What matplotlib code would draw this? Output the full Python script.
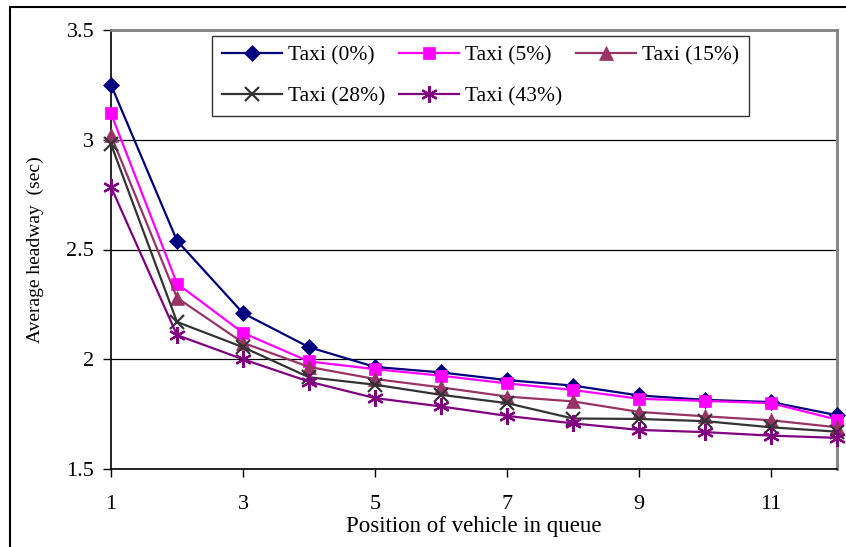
import matplotlib
matplotlib.use("Agg")
import matplotlib.pyplot as plt
from matplotlib.patches import Rectangle

positions = [1, 2, 3, 4, 5, 6, 7, 8, 9, 10, 11, 12]
taxi_0 = [3.25, 2.54, 2.21, 2.055, 1.965, 1.94, 1.905, 1.88, 1.835, 1.815, 1.805, 1.745]
taxi_5 = [3.12, 2.345, 2.12, 1.99, 1.955, 1.925, 1.89, 1.86, 1.82, 1.81, 1.80, 1.725]
taxi_15 = [3.02, 2.28, 2.075, 1.965, 1.91, 1.872, 1.83, 1.808, 1.76, 1.74, 1.722, 1.69]
taxi_28 = [2.98, 2.17, 2.055, 1.918, 1.884, 1.838, 1.80, 1.73, 1.728, 1.718, 1.69, 1.67]
taxi_43 = [2.785, 2.11, 2.0, 1.898, 1.823, 1.785, 1.742, 1.708, 1.678, 1.668, 1.652, 1.642]
labels = ["Taxi (0%)", "Taxi (5%)", "Taxi (15%)", "Taxi (28%)", "Taxi (43%)"]
xticks = [1, 3, 5, 7, 9, 11]
yticks = [1.5, 2, 2.5, 3, 3.5]
ytick_labels = ["1.5", "2", "2.5", "3", "3.5"]

plt.rcParams['font.family'] = ['Liberation Serif', 'DejaVu Serif']

fig = plt.figure(figsize=(8.46, 5.47), dpi=100)
W, H = 846, 547
ax = fig.add_axes([111 / W, 1 - 469 / H, (837 - 111) / W, (469 - 30) / H])

series = [taxi_0, taxi_5, taxi_15, taxi_28, taxi_43]
colors = ["#000080", "#FF00FF", "#993366", "#333333", "#800080"]
markers = ["D", "s", "^", "x", (6, 2, 0)]
msizes = [8, 9, 10, 10, 12]
handles = []
for ys, c, m, ms, lab in zip(series, colors, markers, msizes, labels):
    kw = dict(color=c, marker=m, markersize=ms, linewidth=1.6, label=lab,
              markerfacecolor=c, markeredgecolor=c)
    if m == "x" or isinstance(m, tuple):
        kw["markeredgewidth"] = 1.6
    else:
        kw["markeredgewidth"] = 0.5
    h, = ax.plot(positions, ys, clip_on=False, zorder=3, **kw)
    handles.append(h)

ax.set_xlim(1, 12)
ax.set_ylim(1.5, 3.5)
ax.set_xticks(xticks)
ax.set_yticks(yticks)
ax.set_yticklabels(ytick_labels)
ax.yaxis.grid(True, color="black", linewidth=0.9)
ax.set_axisbelow(True)
ax.tick_params(axis="both", direction="out", length=6, width=1, labelsize=16, colors="black")
ax.tick_params(axis="x", pad=13)
ax.tick_params(axis="y", pad=6)
for side in ["left", "bottom"]:
    ax.spines[side].set_color("black")
    ax.spines[side].set_linewidth(1.2)
for side in ["top", "right"]:
    ax.spines[side].set_color("#808080")
    ax.spines[side].set_linewidth(2)

ax.set_xlabel("Position of vehicle in queue", fontsize=16.5, labelpad=1)
ax.set_ylabel("Average headway  (sec)", fontsize=14, labelpad=16)

order = [0, 3, 1, 4, 2]
leg = ax.legend([handles[i] for i in order], [labels[i] for i in order],
                ncol=3, loc="upper left",
                bbox_to_anchor=((212 - 111) / (837 - 111), 1 - (36 - 30) / (469 - 30)),
                fontsize=15.5, frameon=True, fancybox=False, edgecolor="black",
                borderpad=0.45, handlelength=2.8, columnspacing=0.6, handletextpad=0.3,
                labelspacing=0.95, borderaxespad=0)
leg.get_frame().set_linewidth(1.0)
leg.set_zorder(5)

fig.patches.append(Rectangle((10 / W, -0.1), 1.2, 1 - 7 / H + 0.1, transform=fig.transFigure,
                             fill=False, edgecolor="black", linewidth=1.5))

fig.savefig("out.png", dpi=100)
